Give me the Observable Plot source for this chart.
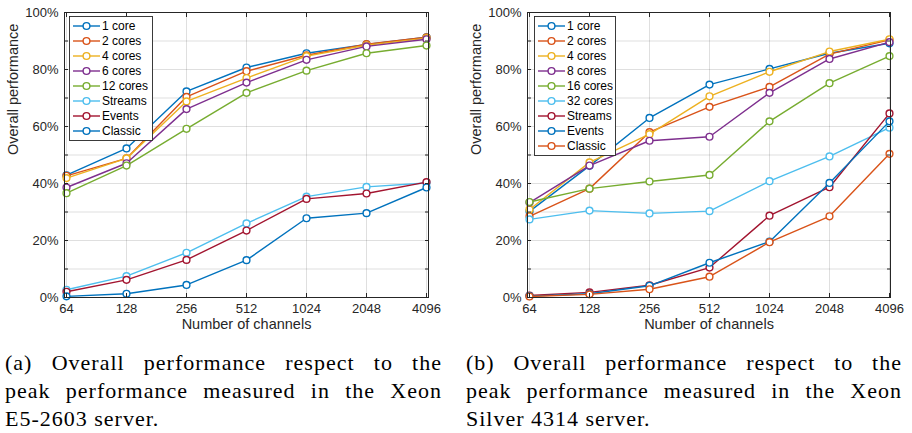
<!DOCTYPE html>
<html><head><meta charset="utf-8">
<script src="https://cdn.jsdelivr.net/npm/d3@7"></script>
<script src="https://cdn.jsdelivr.net/npm/@observablehq/plot@0.6"></script>
<style>
html,body{margin:0;padding:0;background:#fff;}
body{width:912px;height:433px;position:relative;overflow:hidden;}
#a{position:absolute;left:0;top:0;}
#b{position:absolute;left:455px;top:0;}
.cap{position:absolute;top:349px;width:437px;font-family:'Liberation Serif',serif;font-size:22px;line-height:28px;color:#000;letter-spacing:1px;}
.cap .j{text-align:justify;text-align-last:justify;}
#capA{left:5px;}
#capB{left:466px;width:436px;}
svg text{font-family:'Liberation Sans',sans-serif;}
</style>
</head><body>
<div id="a"></div>
<div id="b"></div>
<div class="cap" id="capA"><div class="j">(a) Overall performance respect to the</div><div class="j">peak performance measured in the Xeon</div><div>E5-2603 server.</div></div>
<div class="cap" id="capB"><div class="j">(b) Overall performance respect to the</div><div class="j">peak performance measured in the Xeon</div><div>Silver 4314 server.</div></div>
<script>
const channels = [64, 128, 256, 512, 1024, 2048, 4096];
const yTicks = [0, 20, 40, 60, 80, 100];
const colorsA = ["#0072BD", "#D95319", "#EDB120", "#7E2F8E", "#77AC30", "#4DBEEE", "#A2142F", "#0072BD"];
const colorsB = ["#0072BD", "#D95319", "#EDB120", "#7E2F8E", "#77AC30", "#4DBEEE", "#A2142F", "#0072BD", "#D95319"];

// (a) Xeon E5-2603
const seriesA = ["1 core", "2 cores", "4 cores", "6 cores", "12 cores", "Streams", "Events", "Classic"];
const a_core1   = [42.9, 52.3, 72.3, 80.7, 85.7, 88.8, 91.3];
const a_cores2  = [42.7, 48.8, 70.4, 79.4, 85.0, 88.9, 91.3];
const a_cores4  = [41.9, 48.8, 68.8, 77.0, 84.7, 88.5, 91.0];
const a_cores6  = [38.6, 47.1, 66.1, 75.4, 83.4, 88.1, 90.6];
const a_cores12 = [36.6, 46.3, 59.2, 71.8, 79.6, 85.7, 88.4];
const a_streams = [2.7, 7.5, 15.7, 26.0, 35.4, 38.8, 40.2];
const a_events  = [2.0, 6.2, 13.2, 23.5, 34.6, 36.5, 40.5];
const a_classic = [0.4, 1.3, 4.4, 13.1, 27.8, 29.6, 38.6];

// (b) Xeon Silver 4314
const seriesB = ["1 core", "2 cores", "4 cores", "8 cores", "16 cores", "32 cores", "Streams", "Events", "Classic"];
const b_core1   = [30.2, 46.2, 63.0, 74.7, 80.2, 85.7, 89.2];
const b_cores2  = [28.5, 38.2, 58.0, 66.9, 73.9, 85.4, 90.4];
const b_cores4  = [30.9, 47.4, 57.3, 70.6, 79.2, 86.3, 90.6];
const b_cores8  = [33.3, 46.3, 55.0, 56.4, 71.8, 83.7, 89.6];
const b_cores16 = [33.5, 38.2, 40.7, 43.0, 61.8, 75.2, 84.7];
const b_cores32 = [27.4, 30.5, 29.5, 30.3, 40.8, 49.5, 59.6];
const b_streams = [0.7, 1.8, 4.3, 10.5, 28.7, 38.7, 64.6];
const b_events  = [0.5, 1.3, 4.1, 12.2, 19.6, 40.2, 61.8];
const b_classic = [0.35, 1.1, 2.9, 7.3, 19.4, 28.5, 50.4];

const valuesA = [a_core1, a_cores2, a_cores4, a_cores6, a_cores12, a_streams, a_events, a_classic];
const valuesB = [b_core1, b_cores2, b_cores4, b_cores8, b_cores16, b_cores32, b_streams, b_events, b_classic];

function makeChart(names, values, colors, cfg) {
  const marks = [
    Plot.gridY(d3.range(0, 101, 10), {stroke: "#262626", strokeOpacity: 0.15, strokeWidth: 1}),
    Plot.gridX(channels, {stroke: "#262626", strokeOpacity: 0.15, strokeWidth: 1})
  ];
  names.forEach((name, i) => {
    const data = channels.map((c, j) => ({x: c, y: values[i][j], s: name}));
    marks.push(Plot.line(data, {x: "x", y: "y", stroke: colors[i], strokeWidth: 1.4}));
    marks.push(Plot.dot(data, {x: "x", y: "y", r: 3.4, fill: "white", stroke: colors[i], strokeWidth: 1.4}));
  });
  marks.push(
    Plot.frame({stroke: "#262626", strokeWidth: 1}),
    Plot.axisX(channels, {anchor: "bottom", tickSize: -4, tickPadding: 10, tickFormat: d => String(d), label: null, fontSize: 13}),
    Plot.axisX(channels, {anchor: "top", tickSize: -4, tickFormat: () => "", label: null}),
    Plot.axisY(yTicks, {anchor: "left", tickSize: -4, tickPadding: 10, tickFormat: d => d + "%", label: null, fontSize: 13}),
    Plot.axisY(d3.range(10, 100, 20), {anchor: "left", tickSize: -4, tickFormat: () => "", label: null}),
    Plot.axisY(d3.range(0, 101, 10), {anchor: "right", tickSize: -4, tickFormat: () => "", label: null}),
    Plot.text(["Number of channels"], {frameAnchor: "bottom", dy: 31, fontSize: 14.5, fill: "#262626"}),
    Plot.text(["Overall performance"], {frameAnchor: "left", dx: -51, rotate: -90, fontSize: 14.5, fill: "#262626"})
  );
  const svg = Plot.plot({
    width: cfg.width, height: 340,
    marginLeft: cfg.ml, marginRight: cfg.mr, marginTop: 12, marginBottom: 43,
    style: {fontFamily: "Liberation Sans", fontSize: "13px", color: "#262626", background: "white", overflow: "visible"},
    x: {type: "point", domain: channels, padding: 0},
    y: {domain: [0, 100]},
    marks
  });
  // legend
  const g = d3.select(svg).append("g").attr("text-anchor", "start");
  g.append("rect").attr("x", cfg.lx).attr("y", 16.5).attr("width", cfg.lw).attr("height", names.length * 15 + 4)
    .attr("fill", "white").attr("stroke", "#262626").attr("stroke-width", 0.9);
  names.forEach((name, i) => {
    const y = 26 + 15 * i;
    const x0 = cfg.lx + 3.5;
    g.append("line").attr("x1", x0).attr("x2", x0 + 27).attr("y1", y).attr("y2", y)
      .attr("stroke", colors[i]).attr("stroke-width", 1.4);
    g.append("circle").attr("cx", x0 + 13.5).attr("cy", y).attr("r", 3.4)
      .attr("fill", "white").attr("stroke", colors[i]).attr("stroke-width", 1.4);
    g.append("text").attr("x", x0 + 29).attr("y", y).attr("dy", "0.35em")
      .attr("text-anchor", "start").attr("font-size", 12).attr("fill", "#000").text(name);
  });
  return svg;
}

document.getElementById("a").appendChild(makeChart(seriesA, valuesA, colorsA, {width: 455, ml: 64, mr: 27, lx: 69.5, lw: 83}));
document.getElementById("b").appendChild(makeChart(seriesB, valuesB, colorsB, {width: 457, ml: 72, mr: 22, lx: 79.5, lw: 81}));
</script>
</body></html>
